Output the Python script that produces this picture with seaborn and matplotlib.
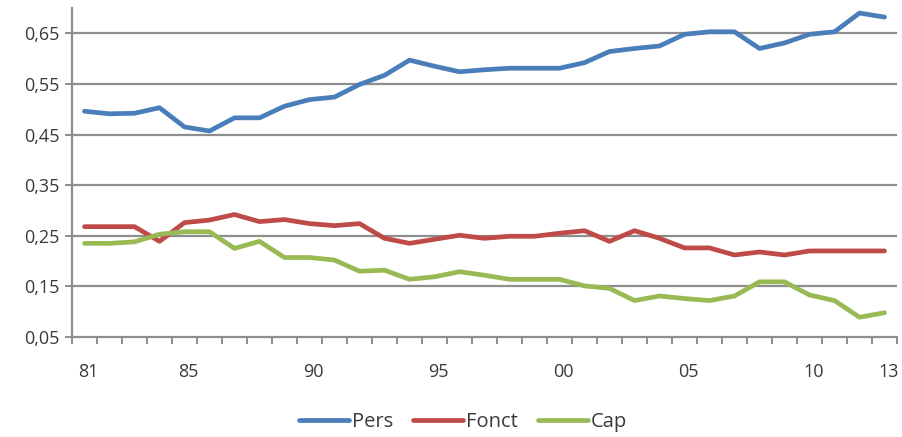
import numpy as np
import pandas as pd
import matplotlib
matplotlib.use("Agg")
import matplotlib.pyplot as plt
from matplotlib.ticker import FixedLocator, FuncFormatter
from matplotlib.transforms import ScaledTranslation
import seaborn as sns

years = list(range(1981, 2014))

pers = [0.496, 0.491, 0.492, 0.503, 0.465, 0.457, 0.483, 0.483, 0.506, 0.519,
        0.524, 0.549, 0.567, 0.597, 0.585, 0.574, 0.578, 0.581, 0.581, 0.581,
        0.592, 0.614, 0.620, 0.625, 0.648, 0.653, 0.653, 0.620, 0.631, 0.648,
        0.653, 0.690, 0.682]
fonct = [0.268, 0.268, 0.268, 0.239, 0.276, 0.281, 0.292, 0.278, 0.282, 0.274,
         0.270, 0.274, 0.245, 0.235, 0.243, 0.251, 0.245, 0.249, 0.249, 0.255,
         0.260, 0.239, 0.260, 0.245, 0.226, 0.226, 0.212, 0.218, 0.212, 0.220,
         0.220, 0.220, 0.220]
cap = [0.235, 0.235, 0.238, 0.253, 0.258, 0.258, 0.225, 0.239, 0.207, 0.207,
       0.202, 0.180, 0.182, 0.164, 0.169, 0.179, 0.172, 0.164, 0.164, 0.164,
       0.151, 0.146, 0.122, 0.131, 0.126, 0.122, 0.131, 0.159, 0.159, 0.133,
       0.122, 0.089, 0.098]

series_names = ["Pers", "Fonct", "Cap"]
y_ticks = [0.05, 0.15, 0.25, 0.35, 0.45, 0.55, 0.65]
x_label_years = [1981, 1985, 1990, 1995, 2000, 2005, 2010, 2013]

df = pd.DataFrame({
    "year": years * 3,
    "value": pers + fonct + cap,
    "series": sum([[n] * len(years) for n in series_names], []),
})

sns.set_theme(style="white")
plt.rcParams["font.family"] = ["Open Sans", "DejaVu Sans"]

grid_col = "#8e8e8e"
text_col = "#3a3a3a"
palette = {"Pers": "#4a7ebb", "Fonct": "#be4b48", "Cap": "#98b954"}

fig = plt.figure(figsize=(9.02, 4.37), dpi=100)
ax = fig.add_axes([72 / 902, 1 - 337 / 437, (897 - 72) / 902, (337 - 8) / 437])

sns.lineplot(data=df, x="year", y="value", hue="series", palette=palette,
             linewidth=3.4, ax=ax, legend=True)

ax.set_xlim(1980.5, 2013.5)
ax.set_ylim(0.05, 0.70)

# horizontal gridlines
for v in y_ticks[1:]:
    ax.axhline(v, color=grid_col, lw=1.6, zorder=0)

ax.set_yticks(y_ticks)
ax.yaxis.set_major_formatter(FuncFormatter(lambda v, p: f"{v:.2f}".replace(".", ",")))
ax.tick_params(axis="y", which="major", direction="out", length=5, width=1.4,
               color=grid_col, labelsize=13, labelcolor=text_col, pad=4, left=True)

ax.set_xticks(x_label_years)
ax.set_xticklabels([f"{y % 100:02d}" for y in x_label_years])
ax.xaxis.set_minor_locator(FixedLocator(np.arange(1980.5, 2014.0, 1.0)))
ax.tick_params(axis="x", which="major", length=0, labelsize=13,
               labelcolor=text_col, pad=19)
ax.tick_params(axis="x", which="minor", direction="out", length=5, width=1.4,
               color=grid_col, bottom=True)
shift = ScaledTranslation(4 / 100, 0, fig.dpi_scale_trans)
for lbl in ax.get_xticklabels():
    lbl.set_transform(lbl.get_transform() + shift)

for side in ["top", "right"]:
    ax.spines[side].set_visible(False)
for side in ["left", "bottom"]:
    ax.spines[side].set_color(grid_col)
    ax.spines[side].set_linewidth(1.6)

ax.set_xlabel("")
ax.set_ylabel("")

handles, labels = ax.get_legend_handles_labels()
ax.legend_.remove()
fig.legend(handles, labels, loc="center", bbox_to_anchor=(0.513, 0.035), ncol=3,
           frameon=False, fontsize=14.5, handlelength=2.5, handletextpad=0.12,
           columnspacing=1.0, labelcolor=text_col)

fig.savefig("out.png", dpi=100, facecolor="white")
